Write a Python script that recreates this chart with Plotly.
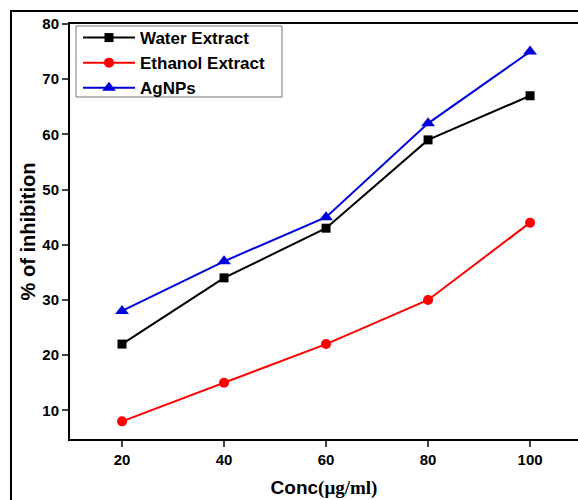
import plotly.graph_objects as go

conc = [20, 40, 60, 80, 100]
water_extract = [22, 34, 43, 59, 67]
ethanol_extract = [8, 15, 22, 30, 44]
agnps = [28, 37, 45, 62, 75]
y_ticks = [10, 20, 30, 40, 50, 60, 70, 80]
x_ticks = [20, 40, 60, 80, 100]

fig = go.Figure()
fig.add_trace(go.Scatter(x=conc, y=water_extract, mode="lines+markers", name="Water Extract",
                         line=dict(color="black", width=2),
                         marker=dict(symbol="square", size=9, color="black")))
fig.add_trace(go.Scatter(x=conc, y=ethanol_extract, mode="lines+markers", name="Ethanol Extract",
                         line=dict(color="#ff0000", width=2),
                         marker=dict(symbol="circle", size=10, color="#ff0000")))
fig.add_trace(go.Scatter(x=conc, y=agnps, mode="lines+markers", name="AgNPs",
                         line=dict(color="#0000dd", width=2),
                         marker=dict(symbol="triangle-up", size=12, color="#0000dd")))

L, T, B = 70, 24, 61
W, H = 578, 500
pw = W - L
ph = H - T - B

def px(x):
    return (x - L) / pw

def py(y):
    return (H - B - y) / ph

fig.update_layout(
    width=W, height=H,
    margin=dict(l=L, r=0, t=T, b=B),
    paper_bgcolor="white", plot_bgcolor="white",
    font=dict(family="Arial, Liberation Sans", color="black"),
    showlegend=True,
    legend=dict(x=px(78), y=py(20), xanchor="left", yanchor="top",
                borderwidth=0, bgcolor="rgba(0,0,0,0)",
                font=dict(size=17, family="Arial, Liberation Sans", weight="bold"),
                tracegroupgap=0, itemwidth=52),
    xaxis=dict(range=[9.8, 109.4], tickvals=x_ticks, ticks="outside", ticklen=6, tickwidth=2,
               showline=True, linecolor="black", linewidth=2, mirror=True, showgrid=False,
               zeroline=False,
               tickfont=dict(size=15, weight="bold"),
               title=dict(text="<b>Conc</b><b><span style='font-family:Liberation Serif, Times New Roman'>(\u03bcg/ml)</span></b>",
                          font=dict(size=19), standoff=14)),
    yaxis=dict(range=[4.8, 80], tickvals=y_ticks, ticks="outside", ticklen=6, tickwidth=2,
               showline=True, linecolor="black", linewidth=2, showgrid=False, zeroline=False,
               tickfont=dict(size=15, weight="bold"),
               title=dict(text="<b>% of inhibition</b>", font=dict(size=20), standoff=1)),
)

# legend box
fig.add_shape(type="rect", xref="paper", yref="paper",
              x0=px(76), x1=px(282), y0=py(97), y1=py(26),
              line=dict(color="#777777", width=1), fillcolor="white", layer="below")

# outer frame (left and top edges visible)
fig.add_shape(type="line", xref="paper", yref="paper",
              x0=px(11), x1=px(11), y0=py(H + 20), y1=py(10),
              line=dict(color="black", width=2))
fig.add_shape(type="line", xref="paper", yref="paper",
              x0=px(10), x1=px(W + 20), y0=py(11), y1=py(11),
              line=dict(color="black", width=2))

fig.write_html("out.html", config={"displayModeBar": False})

with open("out.html", "r", encoding="utf-8") as f:
    html = f.read()
html = html.replace("<head>", "<head><style>html,body{margin:0;padding:0;overflow:hidden}</style>", 1)
with open("out.html", "w", encoding="utf-8") as f:
    f.write(html)
